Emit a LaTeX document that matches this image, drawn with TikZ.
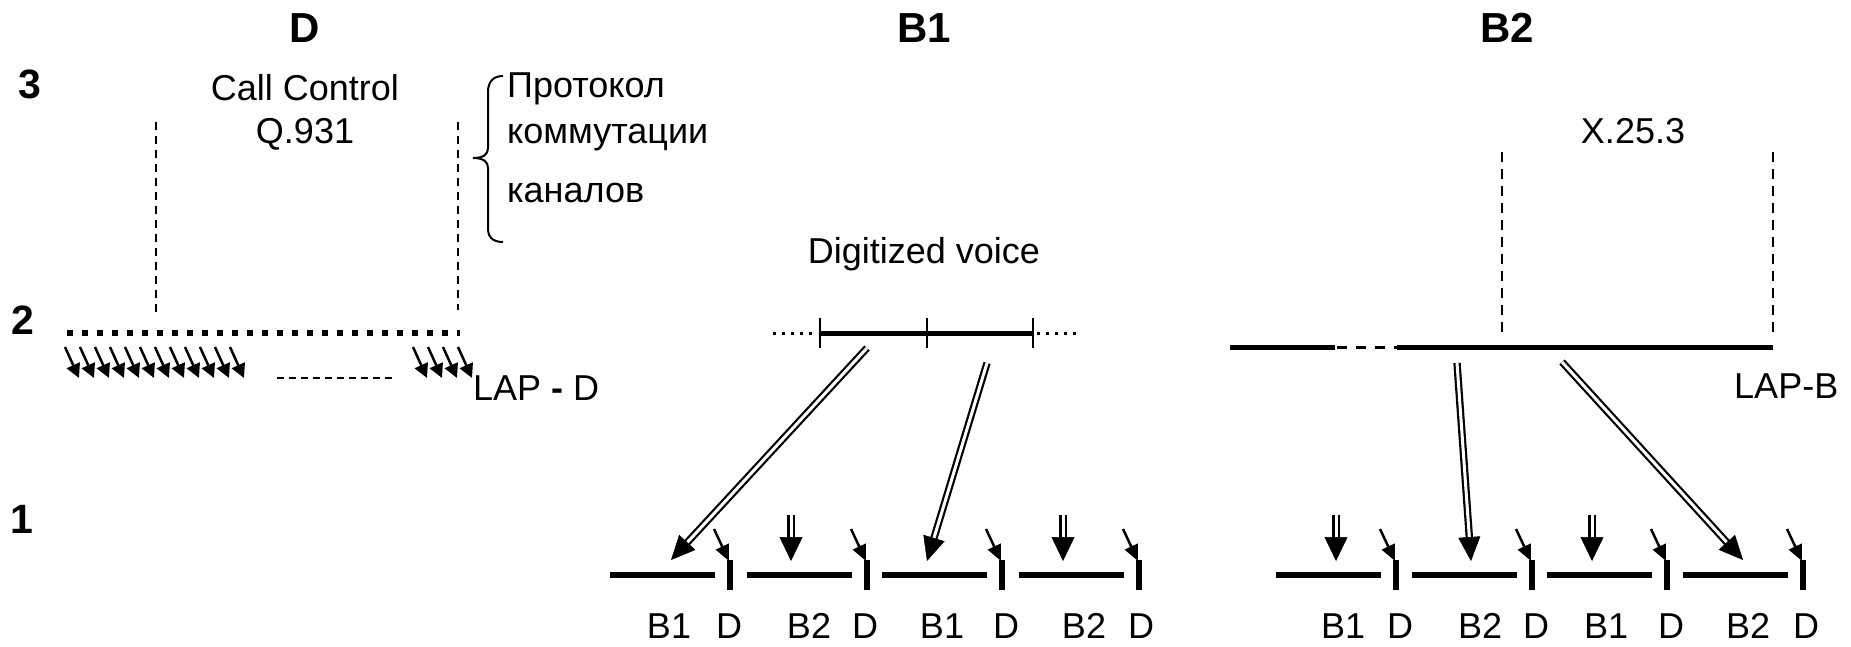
\documentclass[tikz,border=0pt]{standalone}
\usepackage{fontspec}
\setmainfont{Liberation Sans}
\usetikzlibrary{arrows.meta,calc}
\begin{document}
\begin{tikzpicture}[x=1pt,y=-1pt,
  txt/.style={font=\fontsize{36}{40}\selectfont, inner sep=0pt},
  ttl/.style={font=\fontsize{42}{46}\selectfont\bfseries, inner sep=0pt},
  lvl/.style={font=\fontsize{41}{45}\selectfont\bfseries, inner sep=0pt},
  guide/.style={line width=2pt, dash pattern=on 8pt off 6pt},
  guideb/.style={line width=2.5pt, dash pattern=on 10pt off 7pt},
  dchan/.style={line width=6pt, dash pattern=on 6pt off 9pt},
  dots/.style={line width=3pt, dash pattern=on 3pt off 6pt},
  frame/.style={line width=5pt},
  slot/.style={line width=6pt},
  tinyarrow/.style={line width=2.5pt, -{Triangle[length=14pt,width=14pt]}},
  darrow/.style={line width=2.5pt, -{Triangle[length=16pt,width=14pt]}},
  bigshaft/.style={double, line width=2.2pt, double distance=3pt, shorten >=18pt},
  bighead/.style={line width=0.5pt, -{Triangle[length=24pt,width=22pt]}},
  vshaft/.style={double, line width=2.2pt, double distance=3pt, shorten >=18pt},
  vhead/.style={line width=0.5pt, -{Triangle[length=24pt,width=23pt]}}]
\useasboundingbox (0,0) rectangle (1851,646);

% ---------- column titles and layer numbers ----------
\node[ttl, anchor=base] (tD)  at (305,42) {D};
\node[ttl, anchor=base] (tB1) at (924,42) {B1};
\node[ttl, anchor=base] (tB2) at (1507,42) {B2};
\node[lvl, anchor=base] (l3) at (30,98) {3};
\node[lvl, anchor=base] (l2) at (23,334) {2};
\node[lvl, anchor=base] (l1) at (22,533) {1};

% ---------- D channel ----------
\node[txt, anchor=base] (cc)  at (305,100) {Call Control};
\node[txt, anchor=base] (q931) at (305,143) {Q.931};
\draw[guide] (156,122) -- (156,317);
\draw[guide] (458,122) -- (458,310);
\draw[line width=2pt] (503,76) .. controls (493,76) and (488,82) .. (488,92)
  -- (488,148) .. controls (488,154) and (484,158) .. (473,158)
  .. controls (484,158) and (488,162) .. (488,168)
  -- (488,230) .. controls (488,237) and (493,242) .. (503,242);
\node[txt, anchor=base west] (p1) at (507,97) {Протокол};
\node[txt, anchor=base west] (p2) at (507,143) {коммутации};
\node[txt, anchor=base west] (p3) at (507,202) {каналов};
\draw[dchan] (67,333) -- (460,333);
\foreach \k in {0,...,11} {
  \coordinate (da\k) at (65+15*\k,347);
  \coordinate (db\k) at (79+15*\k,378);
  \draw[tinyarrow] (da\k) -- (db\k);
}
\foreach \xx [count=\i] in {413,428,443,458} {
  \coordinate (ea\i) at (\xx,347);
  \coordinate (eb\i) at (\xx+14,378);
  \draw[tinyarrow] (ea\i) -- (eb\i);
}
\draw[line width=1.5pt, dash pattern=on 7pt off 5pt] (277,378) -- (392,378);
\node[txt, anchor=base west] (lapd) at (473,400) {LAP \textbf{-} D};

% ---------- B1 channel ----------
\node[txt, anchor=base] (dv) at (924,263) {Digitized voice};
\draw[dots] (773,333) -- (818,333);
\draw[frame] (820,333) -- (1033,333);
\draw[dots] (1037,333) -- (1077,333);
\foreach \xx in {820,927,1033} \draw[line width=1.5pt] (\xx,318) -- (\xx,348);

% ---------- B2 channel ----------
\node[txt, anchor=base] (x25) at (1633,143) {X.25.3};
\draw[guideb] (1502,152) -- (1502,334);
\draw[guideb] (1773,152) -- (1773,334);
\draw[frame] (1230,347) -- (1335,347);
\draw[line width=3pt, dash pattern=on 10pt off 9pt] (1337,347) -- (1397,347);
\draw[frame] (1397,347) -- (1773,347);
\node[txt, anchor=base west] (lapb) at (1734,398) {LAP-B};

% ---------- layer 1 frames ----------
\foreach \b in {730,867,1002,1139,1396,1532,1667,1803} {
  \draw[slot] (\b-120,575) -- (\b-15,575);
  \draw[slot] (\b,560) -- (\b,590);
  \coordinate (sa\b) at (\b-16,529);
  \coordinate (sb\b) at (\b-1,561);
  \draw[darrow] (sa\b) -- (sb\b);
}
\foreach \xx in {791,1063,1336,1592} {
  \coordinate (va\xx) at (\xx,515);
  \coordinate (vb\xx) at (\xx,561);
  \draw[vshaft] (va\xx) -- (vb\xx);
  \draw[vhead] ($(vb\xx)!20pt!(va\xx)$) -- (vb\xx);
}
\foreach \lab/\xx in {B1/669,D/729,B2/809,D/865,B1/942,D/1006,B2/1084,D/1141,
                      B1/1343,D/1400,B2/1480,D/1536,B1/1606,D/1671,B2/1748,D/1806}
  \node[txt, anchor=base] at (\xx,638) {\lab};

% ---------- frames mapped into layer 1 ----------
\coordinate (m1s) at (867,348);  \coordinate (m1t) at (671,560);
\coordinate (m2s) at (987,363);  \coordinate (m2t) at (927,561);
\coordinate (m3s) at (1457,363); \coordinate (m3t) at (1471,561);
\coordinate (m4s) at (1562,362); \coordinate (m4t) at (1743,560);
\foreach \m in {1,2,3,4} {
  \draw[bigshaft] (m\m s) -- (m\m t);
  \draw[bighead] ($(m\m t)!20pt!(m\m s)$) -- (m\m t);
}
\end{tikzpicture}
\end{document}
